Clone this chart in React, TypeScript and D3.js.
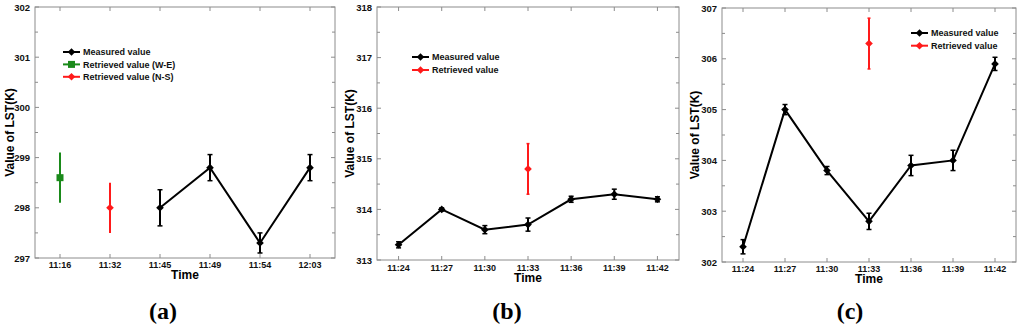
import React from 'react';
import * as d3 from 'd3';

// panel (a)
const timesA = ['11:16', '11:32', '11:45', '11:49', '11:54', '12:03'];
const measuredTimesA = ['11:45', '11:49', '11:54', '12:03'];
const measuredA = [298.0, 298.8, 297.3, 298.8];
const measuredErrA = [0.36, 0.26, 0.2, 0.26];
const retrievedWETimeA = '11:16';
const retrievedWEA = 298.6;
const retrievedWEErrA = 0.5;
const retrievedNSTimeA = '11:32';
const retrievedNSA = 298.0;
const retrievedNSErrA = 0.5;
const yTicksA = [297, 298, 299, 300, 301, 302];

// panel (b)
const timesB = ['11:24', '11:27', '11:30', '11:33', '11:36', '11:39', '11:42'];
const measuredB = [313.3, 314.0, 313.6, 313.7, 314.2, 314.3, 314.2];
const measuredErrB = [0.06, 0.03, 0.08, 0.13, 0.06, 0.1, 0.05];
const retrievedTimeB = '11:33';
const retrievedB = 314.8;
const retrievedErrB = 0.5;
const yTicksB = [313, 314, 315, 316, 317, 318];

// panel (c)
const timesC = ['11:24', '11:27', '11:30', '11:33', '11:36', '11:39', '11:42'];
const measuredC = [302.3, 305.0, 303.8, 302.8, 303.9, 304.0, 305.9];
const measuredErrC = [0.14, 0.1, 0.08, 0.16, 0.2, 0.2, 0.13];
const retrievedTimeC = '11:33';
const retrievedC = 306.3;
const retrievedErrC = 0.5;
const yTicksC = [302, 303, 304, 305, 306, 307];

const SANS = "'Liberation Sans', Arial, sans-serif";
const SERIF = "'Liberation Serif', 'Times New Roman', serif";
const GRID = '#8c8c8c';

type Pt = { t: string; v: number; e: number };
type Extra = { label: string; color: string; shape: 'square' | 'diamond'; cap: number; pts: Pt[] };

type PanelProps = {
  box: [number, number, number, number]; // left, top, right, bottom
  cats: string[];
  yTicks: number[];
  measured: Pt[];
  extras: Extra[];
  legend: { x: number; y: number; dy: number };
  yLabelX: number;
  timeY: number;
  tickY: number;
  letter: string;
  letterX: number;
};

function marker(shape: string, x: number, y: number, color: string, key: string) {
  if (shape === 'square') {
    return <rect key={key} x={x - 3.5} y={y - 3.5} width={7} height={7} fill={color} />;
  }
  const r = 3.8;
  return (
    <path key={key} d={`M${x},${y - r}L${x + r},${y}L${x},${y + r}L${x - r},${y}Z`} fill={color} />
  );
}

function Panel(p: PanelProps) {
  const [l, t, r, b] = p.box;
  const x = d3.scalePoint<string>().domain(p.cats).range([l, r]).padding(0.5);
  const y = d3.scaleLinear().domain([p.yTicks[0], p.yTicks[p.yTicks.length - 1]]).range([b, t]);
  const minor = d3.range(p.yTicks[0] + 0.5, p.yTicks[p.yTicks.length - 1], 1);
  const line = d3
    .line<Pt>()
    .x((d) => x(d.t) as number)
    .y((d) => y(d.v));

  const errBar = (d: Pt, color: string, cap: number, key: string) => {
    const cx = x(d.t) as number;
    const y0 = y(d.v - d.e);
    const y1 = y(d.v + d.e);
    return (
      <g key={key} stroke={color} strokeWidth={2}>
        <line x1={cx} x2={cx} y1={y0} y2={y1} />
        {cap > 0 && <line x1={cx - cap} x2={cx + cap} y1={y0} y2={y0} strokeWidth={1.5} />}
        {cap > 0 && <line x1={cx - cap} x2={cx + cap} y1={y1} y2={y1} strokeWidth={1.5} />}
      </g>
    );
  };

  const legendItems = [
    { label: 'Measured value', color: '#000', shape: 'diamond' },
    ...p.extras.map((e) => ({ label: e.label, color: e.color, shape: e.shape })),
  ];
  const midX = (l + r) / 2;

  return (
    <g>
      <rect x={l} y={t} width={r - l} height={b - t} fill="#fff" stroke={GRID} strokeWidth={1} />
      {/* y ticks */}
      {p.yTicks.map((v) => (
        <g key={'yt' + v}>
          <line x1={l} x2={l + 4} y1={y(v)} y2={y(v)} stroke={GRID} />
          <line x1={r - 4} x2={r} y1={y(v)} y2={y(v)} stroke={GRID} />
          <text
            x={l - 5}
            y={y(v) + 3.5}
            textAnchor="end"
            fontFamily={SANS}
            fontWeight="bold"
            fontSize={9.5}
            fill="#111"
          >
            {v}
          </text>
        </g>
      ))}
      {minor.map((v) => (
        <g key={'ym' + v}>
          <line x1={l} x2={l + 3} y1={y(v)} y2={y(v)} stroke={GRID} />
          <line x1={r - 3} x2={r} y1={y(v)} y2={y(v)} stroke={GRID} />
        </g>
      ))}
      {/* x ticks */}
      {p.cats.map((c) => (
        <g key={'xt' + c}>
          <line x1={x(c)} x2={x(c)} y1={b} y2={b - 4} stroke={GRID} />
          <line x1={x(c)} x2={x(c)} y1={t} y2={t + 4} stroke={GRID} />
          <text
            x={x(c)}
            y={p.tickY}
            textAnchor="middle"
            fontFamily={SANS}
            fontWeight="bold"
            fontSize={9}
            fill="#111"
          >
            {c}
          </text>
        </g>
      ))}
      {/* axis titles */}
      <text
        x={midX}
        y={p.timeY}
        textAnchor="middle"
        fontFamily={SANS}
        fontWeight="bold"
        fontSize={12}
        fill="#000"
      >
        Time
      </text>
      <text
        transform={`translate(${p.yLabelX},${(t + b) / 2}) rotate(-90)`}
        textAnchor="middle"
        dy="0.35em"
        fontFamily={SANS}
        fontWeight="bold"
        fontSize={12}
        fill="#000"
      >
        Value of LST(K)
      </text>
      {/* extra series */}
      {p.extras.map((e, i) =>
        e.pts.map((d, j) => (
          <g key={'ex' + i + j}>
            {errBar(d, e.color, e.cap, 'eb')}
            {marker(e.shape, x(d.t) as number, y(d.v), e.color, 'mk')}
          </g>
        ))
      )}
      {/* measured */}
      <path d={line(p.measured) || ''} fill="none" stroke="#000" strokeWidth={2} />
      {p.measured.map((d, i) => errBar(d, '#000', 2.5, 'me' + i))}
      {p.measured.map((d, i) => marker('diamond', x(d.t) as number, y(d.v), '#000', 'mm' + i))}
      {/* legend */}
      {legendItems.map((it, i) => {
        const ly = p.legend.y + i * p.legend.dy;
        return (
          <g key={'lg' + i}>
            <line x1={p.legend.x} x2={p.legend.x + 17} y1={ly} y2={ly} stroke={it.color} strokeWidth={2} />
            {marker(it.shape, p.legend.x + 8.5, ly, it.color, 'lm')}
            <text
              x={p.legend.x + 20}
              y={ly + 3.3}
              fontFamily={SANS}
              fontWeight="bold"
              fontSize={9}
              fill="#111"
            >
              {it.label}
            </text>
          </g>
        );
      })}
      <text
        x={p.letterX}
        y={319}
        textAnchor="middle"
        fontFamily={SERIF}
        fontWeight="bold"
        fontSize={24}
        fill="#000"
      >
        ({p.letter})
      </text>
    </g>
  );
}

const zip = (ts: string[], vs: number[], es: number[]): Pt[] => ts.map((t, i) => ({ t, v: vs[i], e: es[i] }));

export default function App() {
  return (
    <svg
      width={1024}
      height={331}
      style={{ position: 'absolute', left: 0, top: 0, background: '#fff' }}
    >
      <Panel
        box={[35, 7, 335, 258]}
        cats={timesA}
        yTicks={yTicksA}
        measured={zip(measuredTimesA, measuredA, measuredErrA)}
        extras={[
          {
            label: 'Retrieved value (W-E)',
            color: '#1a8a1a',
            shape: 'square',
            cap: 0,
            pts: [{ t: retrievedWETimeA, v: retrievedWEA, e: retrievedWEErrA }],
          },
          {
            label: 'Retrieved value (N-S)',
            color: '#ff1a1a',
            shape: 'diamond',
            cap: 0,
            pts: [{ t: retrievedNSTimeA, v: retrievedNSA, e: retrievedNSErrA }],
          },
        ]}
        legend={{ x: 63, y: 52, dy: 12.4 }}
        yLabelX={10}
        timeY={279}
        tickY={268}
        letter="a"
        letterX={163}
      />
      <Panel
        box={[377, 7, 679, 260]}
        cats={timesB}
        yTicks={yTicksB}
        measured={zip(timesB, measuredB, measuredErrB)}
        extras={[
          {
            label: 'Retrieved value',
            color: '#ff1a1a',
            shape: 'diamond',
            cap: 1.5,
            pts: [{ t: retrievedTimeB, v: retrievedB, e: retrievedErrB }],
          },
        ]}
        legend={{ x: 412, y: 57, dy: 13 }}
        yLabelX={350}
        timeY={281.5}
        tickY={270.5}
        letter="b"
        letterX={507}
      />
      <Panel
        box={[722, 8, 1016, 262]}
        cats={timesC}
        yTicks={yTicksC}
        measured={zip(timesC, measuredC, measuredErrC)}
        extras={[
          {
            label: 'Retrieved value',
            color: '#ff1a1a',
            shape: 'diamond',
            cap: 1.5,
            pts: [{ t: retrievedTimeC, v: retrievedC, e: retrievedErrC }],
          },
        ]}
        legend={{ x: 911, y: 33, dy: 12.7 }}
        yLabelX={695}
        timeY={283}
        tickY={272}
        letter="c"
        letterX={850}
      />
    </svg>
  );
}
